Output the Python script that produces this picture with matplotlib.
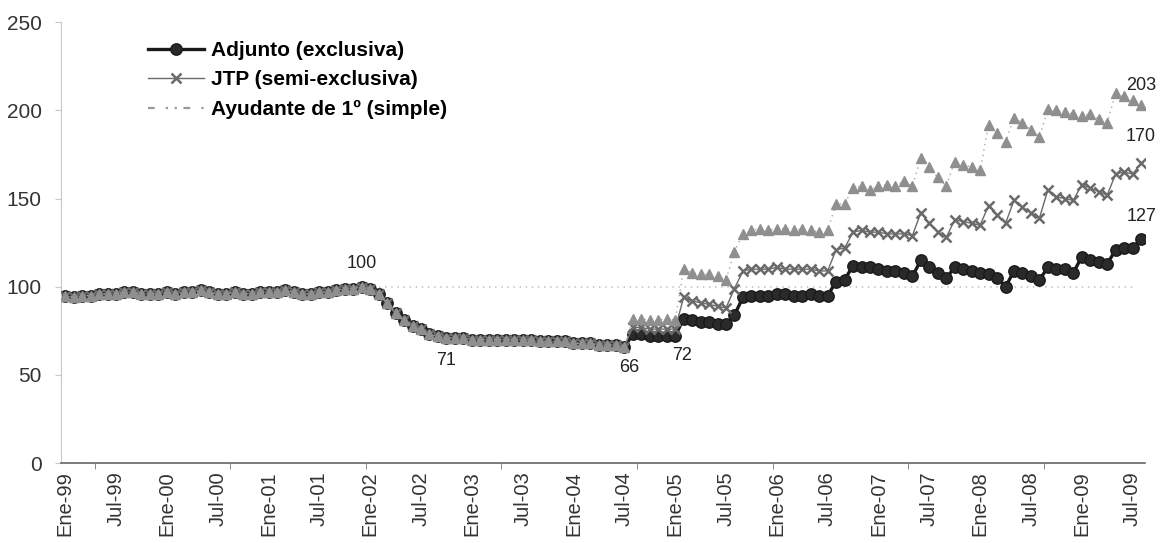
import matplotlib.pyplot as plt
from matplotlib.lines import Line2D
import numpy as np

plt.rcParams["font.family"] = ["Liberation Sans", "DejaVu Sans"]

# Monthly index, base Dec-01 = 100 (Jan-99 .. Aug-09)
tick_labels = ["Ene-99", "Jul-99", "Ene-00", "Jul-00", "Ene-01", "Jul-01",
               "Ene-02", "Jul-02", "Ene-03", "Jul-03", "Ene-04", "Jul-04",
               "Ene-05", "Jul-05", "Ene-06", "Jul-06", "Ene-07", "Jul-07",
               "Ene-08", "Jul-08", "Ene-09", "Jul-09"]

# same value for the three categories until Jul-04
common = [95, 94, 95, 95, 96, 96, 96, 97, 97, 96, 96, 96,
          97, 96, 97, 97, 98, 97, 96, 96, 97, 96, 96, 97,
          97, 97, 98, 97, 96, 96, 97, 97, 98, 99, 99, 100,
          99, 96, 91, 85, 81, 78, 76, 73, 72, 71, 71, 71,
          70, 70, 70, 70, 70, 70, 70, 70, 69, 69, 69, 69,
          68, 68, 68, 67, 67, 67, 66]

adjunto_post = [73, 73, 72, 72, 72, 72,
                82, 81, 80, 80, 79, 79,
                84,
                94, 95, 95, 95, 96, 96, 95, 95, 96, 95, 95,
                103, 104,
                112, 111, 111, 110, 109, 109, 108, 106,
                115,
                111, 108, 105,
                111, 110, 109, 108, 107, 105, 100,
                109, 108, 106, 104,
                111, 110, 110, 108,
                117, 115, 114, 113,
                121, 122, 122,
                127]

jtp_post = [77, 77, 76, 76, 76, 76,
            94, 92, 91, 90, 89, 88,
            99,
            109, 110, 110, 110, 111, 110, 110, 110, 110, 109, 109,
            121, 122,
            131, 132, 131, 131, 130, 130, 130, 129,
            142,
            136, 131, 128,
            138, 137, 136, 135,
            146, 141, 136,
            149, 145, 142, 139,
            155, 151, 150, 149,
            158, 156, 154, 152,
            164, 165, 164,
            170]

ayudante_post = [82, 82, 81, 81, 82, 81,
                 110, 108, 107, 107, 106, 104,
                 120,
                 130, 132, 133, 132, 133, 133, 132, 133, 132, 131, 132,
                 147, 147,
                 156, 157, 155, 157, 158, 157, 160, 157,
                 173,
                 168, 162, 157,
                 171, 169, 168, 166,
                 192, 187, 182,
                 196, 193, 189, 185,
                 201, 200, 199, 198, 197, 198, 195, 193,
                 210, 208, 206,
                 203]

adjunto = np.array(common + adjunto_post)
jtp = np.array(common + jtp_post)
ayudante = np.array(common + ayudante_post)
months = np.arange(len(adjunto))

# reference line at 100 (Feb-02 .. Jul-09)
ref_start, ref_end = 37, 126

# value labels: (month index, y position, text)
annotations = [(35, 113, "100"), (45, 58, "71"), (66.6, 54, "66"),
               (72.8, 61, "72"), (127, 214, "203"), (127, 185, "170"),
               (127, 140, "127")]

fig = plt.figure(figsize=(11.61, 5.43), dpi=100)
ax = fig.add_axes([0.0525, 0.147, 0.934, 0.812])

ax.plot([ref_start, ref_end], [100, 100], color="#c0c0c0", linestyle=(0, (1, 3)),
        linewidth=1.1, zorder=1)

l1, = ax.plot(months, adjunto, color="#1a1a1a", linewidth=2.4, marker="o",
              markersize=8.2, markerfacecolor="#2a2a2a", markeredgecolor="#1a1a1a",
              label="Adjunto (exclusiva)", zorder=2)
l2, = ax.plot(months, jtp, color="#6a6a6a", linewidth=1.0, marker="x",
              markersize=7, markeredgewidth=1.8, label="JTP (semi-exclusiva)", zorder=3)
ax.plot(months, ayudante, color="#a8a8a8", linewidth=1.0, linestyle=(0, (1, 3)),
        marker="^", markersize=7.5, markerfacecolor="#8f8f8f",
        markeredgecolor="#8f8f8f", zorder=4)
l3 = Line2D([], [], color="#9a9a9a", linewidth=1.6, linestyle=(0, (3, 5, 1, 3, 1, 3)))

for x, y, txt in annotations:
    ax.text(x, y, txt, ha="center", va="center", fontsize=13, color="#222222")

ax.set_xlim(-0.5, 127.5)
ax.set_ylim(0, 250)
ax.set_yticks([0, 50, 100, 150, 200, 250])
ax.tick_params(axis="y", labelsize=15, colors="#333333", length=4, color="#c8c8c8",
               pad=10)

ax.set_xticks(np.arange(0, 127, 6))
ax.set_xticklabels(tick_labels, rotation=90)
ax.tick_params(axis="x", which="major", length=0, labelsize=14.5, colors="#333333", pad=6)
ax.set_xticks(np.arange(3.5, 127, 16), minor=True)
ax.tick_params(axis="x", which="minor", length=4, color="#777777", direction="out")

ax.spines["top"].set_visible(False)
ax.spines["right"].set_visible(False)
ax.spines["left"].set_color("#c8c8c8")
ax.spines["bottom"].set_color("#666666")
ax.spines["bottom"].set_linewidth(1.2)

leg = ax.legend([l1, l2, l3],
                ["Adjunto (exclusiva)", "JTP (semi-exclusiva)", "Ayudante de 1º (simple)"],
                loc="upper left", bbox_to_anchor=(0.063, 1.0), frameon=False,
                handlelength=2.7, handletextpad=0.3, labelspacing=0.5,
                prop={"weight": "bold", "size": 15})

fig.savefig("out.png", dpi=100, facecolor="white")
